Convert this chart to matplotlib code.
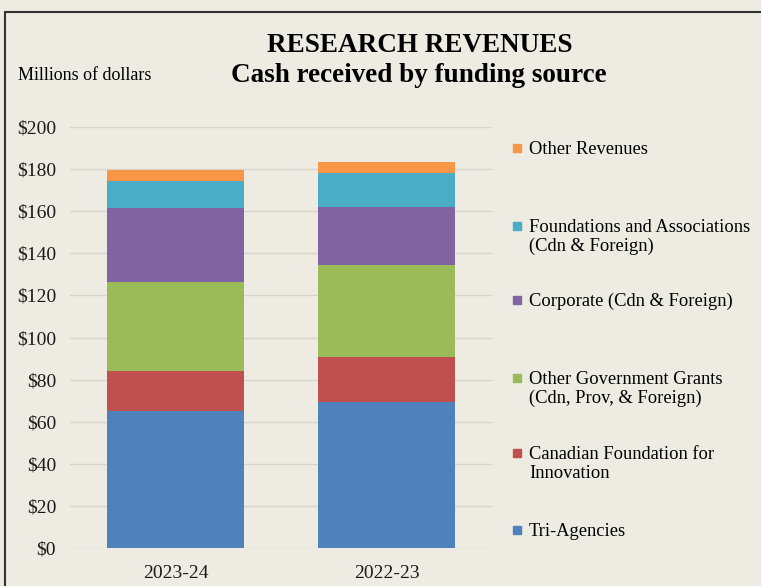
import matplotlib.pyplot as plt
from matplotlib.patches import Rectangle

years = ['2023-24', '2022-23']
sources = ['Tri-Agencies', 'Canadian Foundation for\nInnovation',
           'Other Government Grants\n(Cdn, Prov, & Foreign)', 'Corporate (Cdn & Foreign)',
           'Foundations and Associations\n(Cdn & Foreign)', 'Other Revenues']
tri = [65.1, 69.5]
cfi = [19.1, 21.1]
other_gov = [42.2, 43.7]
corporate = [35.0, 27.7]
foundations = [12.8, 16.3]
other_rev = [5.5, 4.9]
yticks = [0, 20, 40, 60, 80, 100, 120, 140, 160, 180, 200]

colors = ['#4F81BD', '#C0504D', '#9BBB59', '#8064A2', '#4BACC6', '#F79646']
bg = '#EDEBE2'

plt.rcParams['font.family'] = ['Liberation Serif', 'DejaVu Serif']

fig = plt.figure(figsize=(7.61, 5.86), dpi=100, facecolor=bg)
W, H = 761, 586
ax = fig.add_axes([70 / W, 1 - 548 / H, 422 / W, 421 / H])
ax.set_facecolor(bg)

series = [tri, cfi, other_gov, corporate, foundations, other_rev]
bottom = [0, 0]
for vals, c in zip(series, colors):
    ax.bar(range(len(years)), vals, bottom=bottom, width=0.645, color=c, zorder=3)
    bottom = [b + v for b, v in zip(bottom, vals)]

ax.set_xlim(-0.5, 1.5)
ax.set_ylim(0, 200)
ax.set_yticks(yticks)
ax.set_yticklabels(['$%d' % t for t in yticks])
ax.set_xticks(range(len(years)))
ax.set_xticklabels(years)
ax.tick_params(length=0, labelsize=14, colors='#1a1a1a')
ax.tick_params(axis='y', pad=10)
ax.tick_params(axis='x', pad=12)
ax.grid(axis='y', color='#D6D4CC', linewidth=1, zorder=0)
ax.set_axisbelow(True)
for s in ax.spines.values():
    s.set_visible(False)

# titles
fig.text(420 / W, 1 - 45 / H, 'RESEARCH REVENUES', ha='center', va='center',
         fontsize=19.5, fontweight='bold')
fig.text(419 / W, 1 - 75 / H, 'Cash received by funding source', ha='center', va='center',
         fontsize=19.5, fontweight='bold')
fig.text(18 / W, 1 - 75 / H, 'Millions of dollars', ha='left', va='center', fontsize=13)

# legend, top entry first
leg_centers = [148, 226, 300, 378, 453, 530]
for lab, c, yc in zip(sources[::-1], colors[::-1], leg_centers):
    fig.patches.append(Rectangle((513 / W, 1 - (yc + 4) / H), 8 / W, 8 / H,
                                 transform=fig.transFigure, color=c))
    fig.text(529 / W, 1 - (yc - 7) / H, lab, ha='left', va='top', fontsize=13.3,
             linespacing=1.15)

# border
fig.patches.append(Rectangle((5 / W, -0.05), 1.2, 1 - 12 / H + 0.05,
                             transform=fig.transFigure, fill=False,
                             edgecolor='#333333', linewidth=1.5))

fig.savefig('out.png', dpi=100, facecolor=bg)
